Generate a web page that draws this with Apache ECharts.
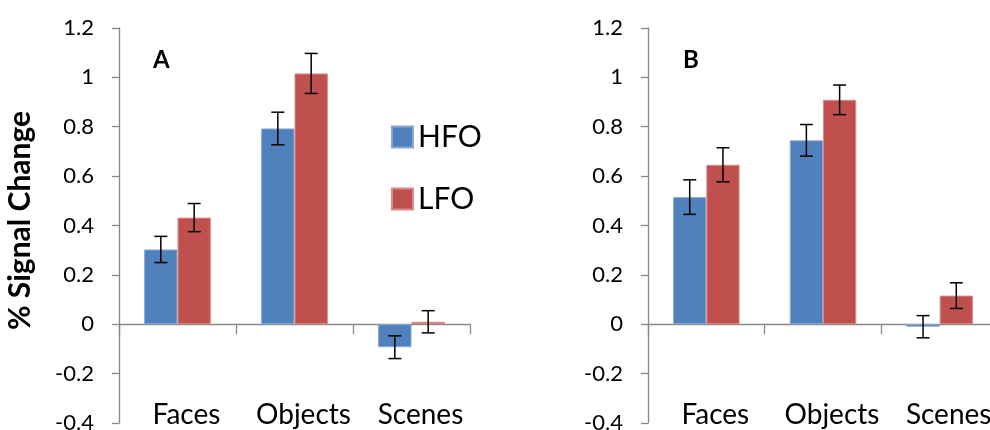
<!DOCTYPE html>
<html>
<head>
<meta charset="utf-8">
<script src="https://cdn.jsdelivr.net/npm/echarts@6/dist/echarts.min.js"></script>
<style>html,body{margin:0;padding:0;background:#fff;}#c{width:990px;height:430px;}</style>
</head>
<body>
<div id="c"></div>
<script>
var categories = ['Faces', 'Objects', 'Scenes'];
var seriesNames = ['HFO', 'LFO'];
var yTicks = { min: -0.4, max: 1.2, interval: 0.2 };
var hfoA = [0.303, 0.793, -0.093];
var hfoAErr = [0.053, 0.066, 0.046];
var lfoA = [0.432, 1.016, 0.010];
var lfoAErr = [0.057, 0.081, 0.045];
var hfoB = [0.515, 0.745, -0.010];
var hfoBErr = [0.070, 0.064, 0.045];
var lfoB = [0.646, 0.909, 0.116];
var lfoBErr = [0.069, 0.060, 0.052];

var FONT = 'Lato';
var AXIS = '#898989';
var BLUE = '#4F81BD';
var RED = '#C0504D';
var CAT_GAP = 0.43;

function errData(v, e) {
  return categories.map(function (c, i) { return [i, v[i] - e[i], v[i] + e[i]]; });
}
function errSeries(name, v, e, axisIdx, side) {
  return {
    type: 'custom', name: name + ' err', xAxisIndex: axisIdx, yAxisIndex: axisIdx, z: 5,
    silent: true,
    encode: { x: 0, y: [1, 2] },
    data: errData(v, e),
    renderItem: function (params, api) {
      var cat = api.value(0);
      var bw = api.size([1, 0])[0];
      var barW = bw * (1 - CAT_GAP) / 2;
      var lo = api.coord([cat, api.value(1)]);
      var hi = api.coord([cat, api.value(2)]);
      var x = lo[0] + side * barW / 2;
      var cap = 6.5;
      var st = { stroke: '#000', lineWidth: 1.5 };
      return {
        type: 'group',
        children: [
          { type: 'line', shape: { x1: x, y1: lo[1], x2: x, y2: hi[1] }, style: st },
          { type: 'line', shape: { x1: x - cap, y1: lo[1], x2: x + cap, y2: lo[1] }, style: st },
          { type: 'line', shape: { x1: x - cap, y1: hi[1], x2: x + cap, y2: hi[1] }, style: st }
        ]
      };
    }
  };
}
function barSeries(name, v, axisIdx, color, border) {
  return {
    type: 'bar', name: name, xAxisIndex: axisIdx, yAxisIndex: axisIdx,
    data: v, barGap: '0%', barCategoryGap: (CAT_GAP * 100) + '%',
    itemStyle: { color: color, borderColor: border, borderWidth: 1 },
    z: 3
  };
}
function xAxis(gridIdx) {
  return {
    type: 'category', gridIndex: gridIdx, data: categories,
    axisLine: { onZero: true, lineStyle: { color: AXIS, width: 1.3 } },
    axisTick: { show: true, length: 10, lineStyle: { color: AXIS, width: 1.3 } },
    axisLabel: { interval: 0, hideOverlap: false, margin: -8, verticalAlign: 'middle', fontFamily: FONT, fontSize: 28, color: '#000', padding: [0, 0, 0, 18] },
    splitLine: { show: false }
  };
}
function yAxis(gridIdx, name) {
  var ax = {
    type: 'value', gridIndex: gridIdx, min: yTicks.min, max: yTicks.max, interval: yTicks.interval,
    axisLine: { show: true, lineStyle: { color: AXIS, width: 1.3 } },
    axisTick: { show: true, length: 7, lineStyle: { color: AXIS, width: 1.3 } },
    axisLabel: { margin: 25, fontFamily: FONT, fontSize: 22, color: '#000' },
    splitLine: { show: false }
  };
  if (name) {
    ax.name = name;
    ax.nameLocation = 'middle';
    ax.nameRotate = 90;
    ax.nameGap = 84;
    ax.nameTextStyle = { fontFamily: FONT, fontSize: 30, fontWeight: 'bold', color: '#000', padding: [0, 0, 0, 10] };
  }
  return ax;
}

var chart = echarts.init(document.getElementById('c'), null, { renderer: 'canvas' });
chart.setOption({
  backgroundColor: '#fff',
  animation: false,
  title: [
    { text: 'A', left: 153, top: 48, padding: 0, textStyle: { fontFamily: FONT, fontSize: 24, fontWeight: 'bold', color: '#000' } },
    { text: 'B', left: 683, top: 48, padding: 0, textStyle: { fontFamily: FONT, fontSize: 24, fontWeight: 'bold', color: '#000' } }
  ],
  legend: {
    data: seriesNames, orient: 'vertical', left: 391, top: 122, padding: 0,
    icon: 'rect', itemWidth: 21, itemHeight: 21, itemGap: 32,
    textStyle: { fontFamily: FONT, fontSize: 30, color: '#000', lineHeight: 29, padding: [0, 0, 0, 0] }
  },
  grid: [
    { left: 119, top: 28, width: 351, height: 395, containLabel: false, outerBoundsMode: 'none' },
    { left: 648, top: 28, width: 350, height: 395, containLabel: false, outerBoundsMode: 'none' }
  ],
  xAxis: [xAxis(0), xAxis(1)],
  yAxis: [yAxis(0, '% Signal Change'), yAxis(1, null)],
  series: [
    barSeries('HFO', hfoA, 0, BLUE, '#8aa6d0'),
    barSeries('LFO', lfoA, 0, RED, '#d98a88'),
    barSeries('HFO', hfoB, 1, BLUE, '#8aa6d0'),
    barSeries('LFO', lfoB, 1, RED, '#d98a88'),
    errSeries('HFO', hfoA, hfoAErr, 0, -1),
    errSeries('LFO', lfoA, lfoAErr, 0, 1),
    errSeries('HFO', hfoB, hfoBErr, 1, -1),
    errSeries('LFO', lfoB, lfoBErr, 1, 1)
  ]
});
</script>
</body>
</html>
